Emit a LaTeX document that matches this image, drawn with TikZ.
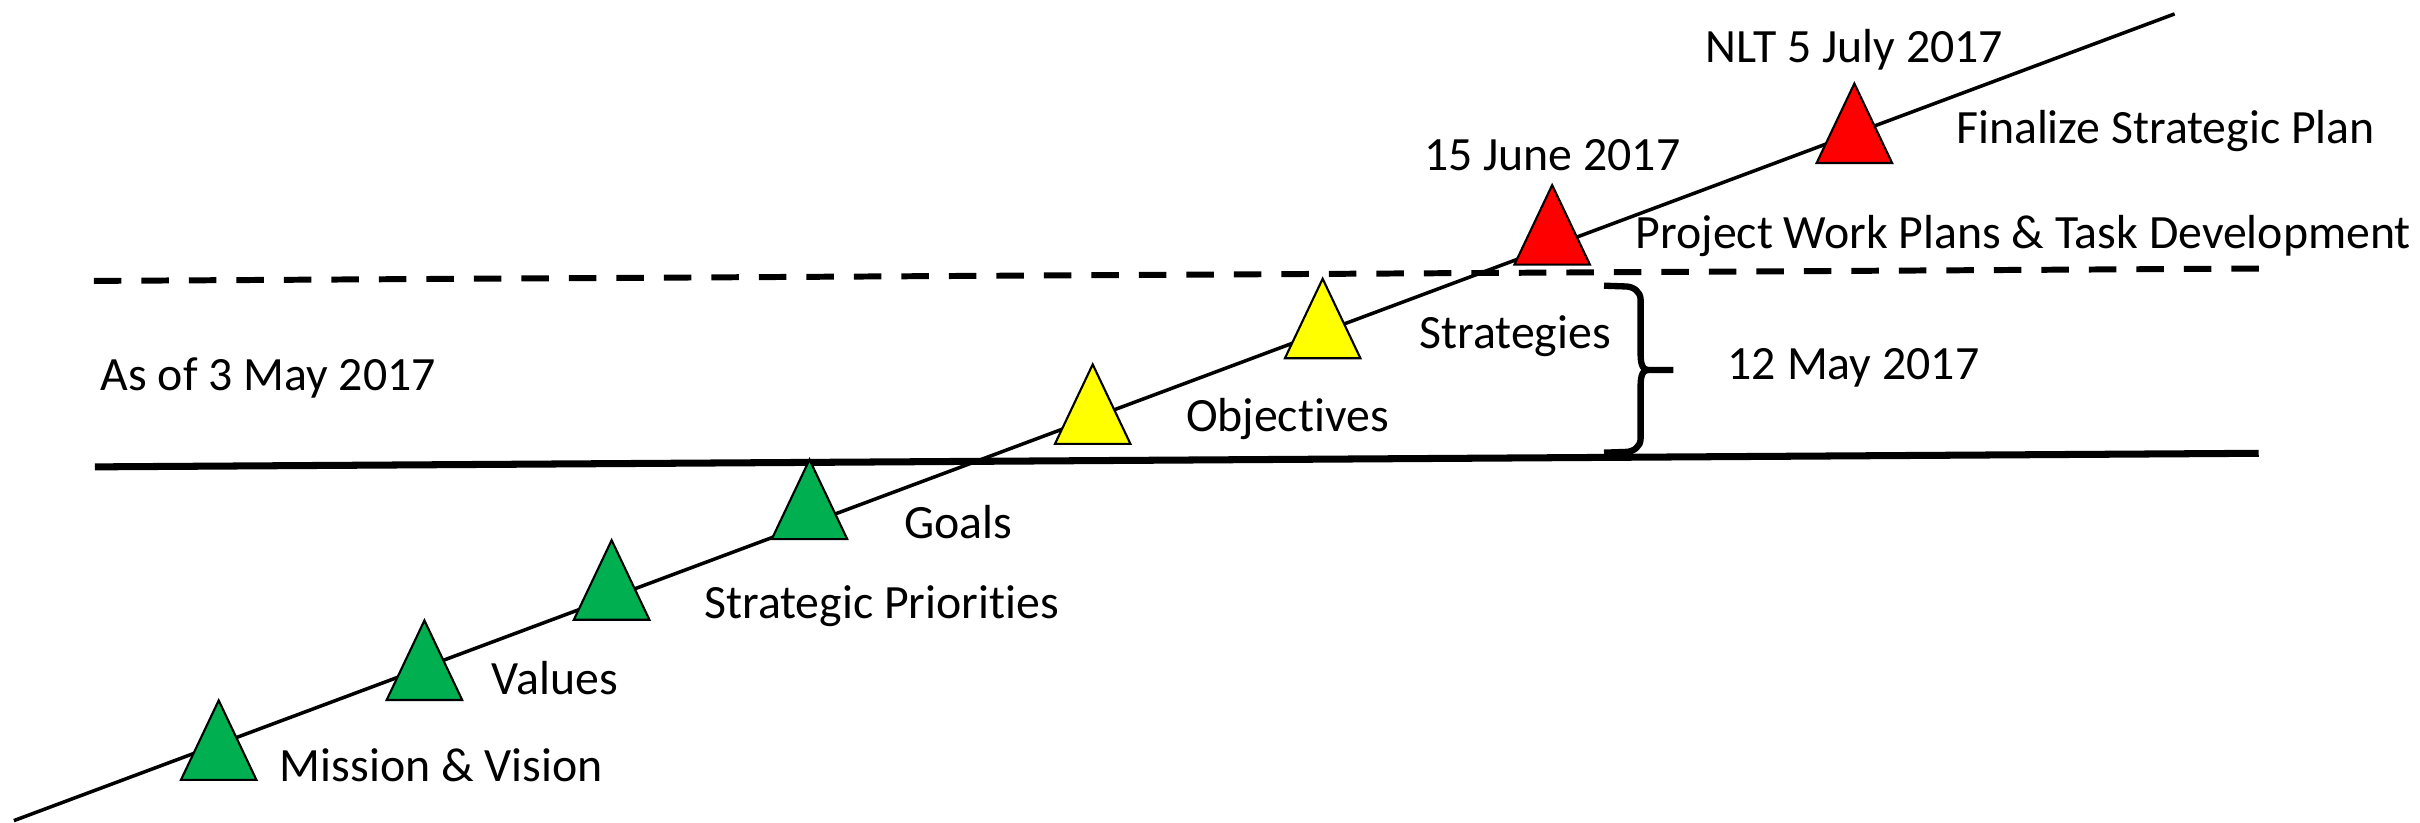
\documentclass[tikz,border=0pt]{standalone}
\usepackage{fontspec}
\setmainfont{Carlito}[Ligatures=NoCommon]
\usepackage{tikz}
\usetikzlibrary{calc,positioning,shapes}
\definecolor{msgreen}{HTML}{00B050}
\definecolor{msyellow}{HTML}{FFFF00}
\definecolor{msred}{HTML}{FF0000}
\newcommand{\lblfont}{\fontsize{13.6}{16}\selectfont}

\begin{document}
\begin{tikzpicture}[x=0.15434mm, y=-0.15434mm]
          \tikzstyle{tnode} = [draw=black, line width=0.6pt, isosceles triangle, isosceles triangle stretches, shape border rotate=90, minimum width=7.55mm, minimum height=7.95mm, inner sep=0pt, anchor=lower side]
          \tikzstyle{lnode} = [inner sep=0pt, anchor=base west, font=\lblfont]
          \tikzstyle{dnode} = [inner sep=0pt, anchor=base, font=\lblfont]
          \tikzstyle{brc} = [line width=1.8pt, line join=round]
          \useasboundingbox (0,0) rectangle (1568,532.6);

          \coordinate (tl0) at (9,531.7);
          \coordinate (tl1) at (1409,9);
          \coordinate (sol0) at (61.5,302.5);
          \coordinate (sol1) at (1463.5,293.7);
          \coordinate (das0) at (60.8,182);
          \coordinate (das1) at (1463.6,174);
          \coordinate (br0) at (1039.3,185.1);
          \coordinate (br1) at (1039.3,293.3);
          \coordinate (brm) at (1063,239.7);
          \coordinate (brtip) at (1084.2,239.7);

          \draw[line width=1pt] (tl0) -- (tl1);
          \draw[line width=2pt] (sol0) -- (sol1);
          \draw[line width=1.7pt, dash pattern=on 2.75mm off 2mm] (das0) -- (das1);

          % brace
          \draw[brc] (br0) -- ($(br0)+(14,0.5)$) to[out=0, in=90] ($(brm |- br0)+(0,9)$) -- ($(brm)+(0,-11)$) to[out=-90, in=180] ($(brm)+(5,0)$) -- (brtip);
          \draw[brc] (br1) -- ($(br1)+(14,-0.5)$) to[out=0, in=-90] ($(brm |- br1)+(0,-9)$) -- ($(brm)+(0,11)$) to[out=90, in=180] ($(brm)+(5,0)$);

          % milestones
          \node[tnode, fill=msgreen] (mv) at (141.7,506) {};
          \node[tnode, fill=msgreen] (val) at (275,454.2) {};
          \node[tnode, fill=msgreen] (pri) at (396.3,402.2) {};
          \node[tnode, fill=msgreen] (goal) at (524.5,350) {};
          \node[tnode, fill=msyellow] (obj) at (708,288.3) {};
          \node[tnode, fill=msyellow] (strat) at (857,232.8) {};
          \node[tnode, fill=msred] (june) at (1005.7,172.1) {};
          \node[tnode, fill=msred] (july) at (1201.5,106.3) {};

          \node[lnode] (mvl) at (180.9,506.5) {Mission \& Vision};
          \node[lnode] (vall) at (318.2,450.3) {Values};
          \node[lnode] (pril) at (455.9,400.6) {Strategic Priorities};
          \node[lnode] (goall) at (585.4,348.8) {Goals};
          \node[lnode] (objl) at (768,279.7) {Objectives};
          \node[lnode] (stratl) at (919.3,225.7) {Strategies};
          \node[lnode] (junel) at (1059.4,160.9) {Project Work Plans \& Task Development};
          \node[lnode] (julyl) at (1267,92.9) {Finalize Strategic Plan};

          \node[dnode, above = 1.2mm of june.apex, anchor=base] (juned) {15 June 2017};
          \node[dnode, above = 1.8mm of july.apex, anchor=base] (julyd) {NLT 5 July 2017};
          \node[lnode] (asof) at (64.8,252.7) {As of 3 May 2017};
          \node[lnode] (may) at (1119,245.8) {12 May 2017};
        \end{tikzpicture}
\end{document}
